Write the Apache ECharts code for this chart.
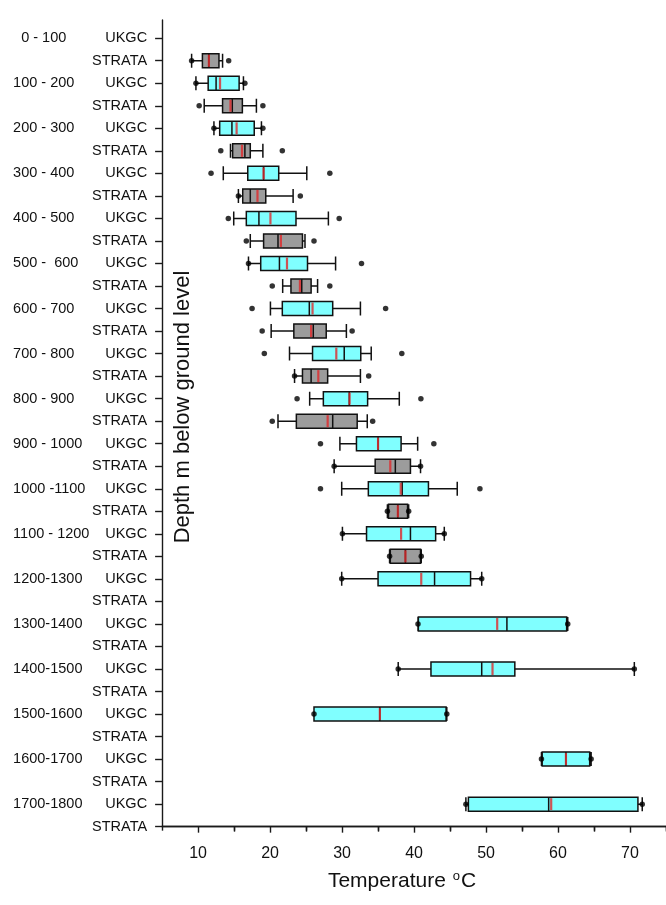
<!DOCTYPE html>
<html><head><meta charset="utf-8">
<script src="https://cdn.jsdelivr.net/npm/echarts@6/dist/echarts.min.js"></script>
<style>html,body{margin:0;padding:0;background:#fff}#c{width:666px;height:905px}</style>
</head><body><div id="c"></div>
<script>
// ---- data ----
const depthRanges = ["  0 - 100","100 - 200","200 - 300","300 - 400","400 - 500","500 -  600","600 - 700","700 - 800","800 - 900","900 - 1000","1000 -1100","1100 - 1200","1200-1300","1300-1400","1400-1500","1500-1600","1600-1700","1700-1800"];
const groups = ["UKGC", "STRATA"];
// [whisker low, Q1, median, Q3, whisker high]
const ukgcBox = [
  null,
  [9.7, 11.4, 12.5, 15.7, 16.3],
  [12.2, 13.0, 14.7, 17.8, 18.8],
  [13.5, 16.9, 19.1, 21.2, 25.1],
  [14.95, 16.7, 18.45, 23.6, 28.1],
  [17.0, 18.7, 21.3, 25.2, 29.1],
  [20.05, 21.7, 25.45, 28.7, 32.55],
  [22.7, 25.9, 30.3, 32.6, 34.05],
  [25.5, 27.4, 31.0, 33.55, 37.95],
  [29.7, 32.0, 35.0, 38.2, 40.5],
  [29.95, 33.65, 38.35, 42.0, 46.0],
  [30.05, 33.4, 39.5, 43.0, 44.2],
  [29.95, 35.0, 42.85, 47.85, 49.4],
  [40.55, 40.6, 52.9, 61.2, 61.35],
  [37.8, 42.35, 49.4, 54.0, 70.6],
  [26.1, 26.1, 35.25, 44.45, 44.55],
  [57.7, 57.8, 61.1, 64.4, 64.6],
  [47.2, 47.55, 58.7, 71.1, 71.7]
];
const ukgcMean = [null, 13.05, 15.35, 19.1, 20.05, 22.35, 25.9, 29.2, 31.05, 35.0, 38.15, 38.2, 41.0, 51.55, 50.9, 35.25, 61.1, 59.05];
const ukgcLowDot = [null, 9.7, 12.2, 11.8, 14.2, 17.0, 17.5, 19.2, 23.75, 27.0, 27.0, 30.05, 29.95, 40.55, 37.8, 26.1, 57.7, 47.2];
const ukgcHighDot = [null, 16.5, 19.0, 28.3, 29.6, 32.7, 36.05, 38.3, 40.95, 42.75, 49.15, 44.2, 49.4, 61.35, 70.6, 44.55, 64.6, 71.7];

const strataBox = [
  [9.1, 10.6, 11.5, 12.9, 13.4],
  [10.85, 13.4, 14.75, 16.15, 18.1],
  [14.5, 14.8, 16.5, 17.25, 19.0],
  [15.6, 16.2, 17.25, 19.4, 23.2],
  [17.25, 19.1, 21.1, 24.5, 24.85],
  [21.75, 22.9, 24.4, 25.7, 26.6],
  [20.15, 23.3, 26.0, 27.8, 30.6],
  [23.4, 24.5, 25.7, 28.0, 32.55],
  [21.1, 23.65, 28.7, 32.1, 33.5],
  [28.9, 34.6, 37.4, 39.5, 40.9],
  [36.3, 36.45, 37.75, 39.1, 39.25],
  [36.6, 36.7, 38.8, 40.9, 41.0],
  null, null, null, null, null, null
];
const strataMean = [11.5, 14.5, 16.1, 18.25, 21.5, 24.15, 25.7, 26.7, 28.0, 36.7, 37.75, 38.8, null, null, null, null, null, null];
const strataLowDot = [9.1, 10.15, 13.15, 15.6, 16.7, 20.3, 18.9, 23.4, 20.3, 28.9, 36.3, 36.6, null, null, null, null, null, null];
const strataHighDot = [14.25, 19.0, 21.7, 24.2, 26.1, 28.3, 31.4, 33.7, 34.25, 40.9, 39.25, 41.0, null, null, null, null, null, null];

const xTickLabels = [10, 20, 30, 40, 50, 60, 70];
const xMinorTicks = [5, 15, 25, 35, 45, 55, 65, 75];
const xTopTicks = [15, 25, 35, 45, 55, 65, 75];

// ---- build ----
const FONT = "'Liberation Sans', Arial, sans-serif";
const groupStyle = {
  UKGC: { box: ukgcBox, mean: ukgcMean, lo: ukgcLowDot, hi: ukgcHighDot, color: '#80ffff' },
  STRATA: { box: strataBox, mean: strataMean, lo: strataLowDot, hi: strataHighDot, color: '#9c9c9c' }
};
const cats = [' '];
const boxData = [['-', '-', '-', '-', '-']];
const meanData = [];
const dotData = [];
depthRanges.forEach((d, i) => {
  groups.forEach(g => {
    const idx = cats.length;
    cats.push(d + '|' + g);
    const s = groupStyle[g];
    const b = s.box[i];
    if (b) boxData.push({ value: b.slice(), itemStyle: { color: s.color } });
    else boxData.push(['-', '-', '-', '-', '-']);
    if (s.mean[i] != null) meanData.push([s.mean[i], idx]);
    if (s.lo[i] != null) dotData.push([s.lo[i], idx]);
    if (s.hi[i] != null) dotData.push([s.hi[i], idx]);
  });
});

const chart = echarts.init(document.getElementById('c'), null, { renderer: 'canvas' });
const AX = '#1a1a1a';
chart.setOption({
  animation: false,
  backgroundColor: '#fff',
  textStyle: { fontFamily: FONT },
  grid: [
    { left: 162.1, width: 506.8, top: 15.67, height: 811 },
    { left: 162.1, width: 506.8, top: 20, height: 806.67 }
  ],
  xAxis: [
    {
      type: 'value', gridIndex: 0, position: 'bottom', min: 5, max: 75, interval: 5,
      axisLine: { show: true, lineStyle: { color: AX, width: 1.4 } },
      axisTick: { show: true, customValues: xTickLabels, length: 6, lineStyle: { color: AX, width: 1.4 } },
      axisLabel: { customValues: xTickLabels, fontSize: 16, color: '#111', margin: 19, fontFamily: FONT },
      splitLine: { show: false }
    },
    {
      type: 'value', gridIndex: 0, position: 'bottom', min: 5, max: 75, interval: 5,
      axisLine: { show: false },
      axisTick: { show: true, customValues: xMinorTicks, length: 4, lineStyle: { color: AX, width: 1.4 } },
      axisLabel: { show: false },
      splitLine: { show: false }
    },
    {
      type: 'value', gridIndex: 1, position: 'top', min: 5, max: 75, interval: 5,
      axisLine: { show: true, lineStyle: { color: AX, width: 1.4 } },
      axisTick: { show: true, inside: true, customValues: xTopTicks, length: 5, lineStyle: { color: AX, width: 1.4 } },
      axisLabel: { show: false },
      splitLine: { show: false }
    }
  ],
  yAxis: [
    {
      type: 'category', gridIndex: 0, data: cats, inverse: true, boundaryGap: false,
      axisLine: { show: false },
      axisTick: { show: true, length: 7, interval: (i) => i > 0, lineStyle: { color: AX, width: 1.4 } },
      axisLabel: { interval: 0, margin: 15, fontSize: 14.5, color: '#111', fontFamily: FONT,
        formatter: v => (v.split('|')[1] || '') },
      splitLine: { show: false }
    },
    {
      type: 'category', gridIndex: 0, data: cats, inverse: true, boundaryGap: false, position: 'left',
      axisLine: { show: false }, axisTick: { show: false },
      axisLabel: { interval: 0, margin: 149, align: 'left', fontSize: 14.5, color: '#111', fontFamily: FONT,
        formatter: v => { const p = v.split('|'); return p[1] === 'UKGC' ? p[0] : ''; } },
      splitLine: { show: false }
    },
    {
      type: 'value', gridIndex: 1, position: 'left', min: 0, max: 1,
      axisLine: { show: true, lineStyle: { color: AX, width: 1.4 } },
      axisTick: { show: false }, axisLabel: { show: false }, splitLine: { show: false }
    }
  ],
  series: [
    {
      type: 'boxplot', xAxisIndex: 0, yAxisIndex: 0, data: boxData,
      boxWidth: [14, 14], silent: true,
      itemStyle: { borderColor: '#111', borderWidth: 1.5 },
      z: 2
    },
    {
      type: 'scatter', xAxisIndex: 0, yAxisIndex: 0, data: meanData,
      symbol: 'rect', symbolSize: [2.2, 12], silent: true,
      itemStyle: { color: '#e0282a' }, z: 3
    },
    {
      type: 'scatter', xAxisIndex: 0, yAxisIndex: 0, data: dotData,
      symbol: 'circle', symbolSize: 5.5, silent: true,
      itemStyle: { color: '#000' }, z: 4
    }
  ],
  graphic: [
    {
      type: 'text', x: 183, y: 407, rotation: Math.PI / 2, silent: true,
      style: { text: 'Depth m below ground level', fontSize: 22, fontFamily: FONT, fill: '#111',
        align: 'center', verticalAlign: 'middle', textAlign: 'center', textVerticalAlign: 'middle' }
    },
    {
      type: 'text', x: 402, y: 881, silent: true,
      style: { text: 'Temperature {sup|o}C', fontSize: 21, fontFamily: FONT, fill: '#111',
        align: 'center', verticalAlign: 'middle', textAlign: 'center', textVerticalAlign: 'middle',
        rich: { sup: { fontSize: 13, fontFamily: FONT, fill: '#111', verticalAlign: 'top', padding: [0, 1, 9, 1] } } }
    }
  ]
});
</script></body></html>
